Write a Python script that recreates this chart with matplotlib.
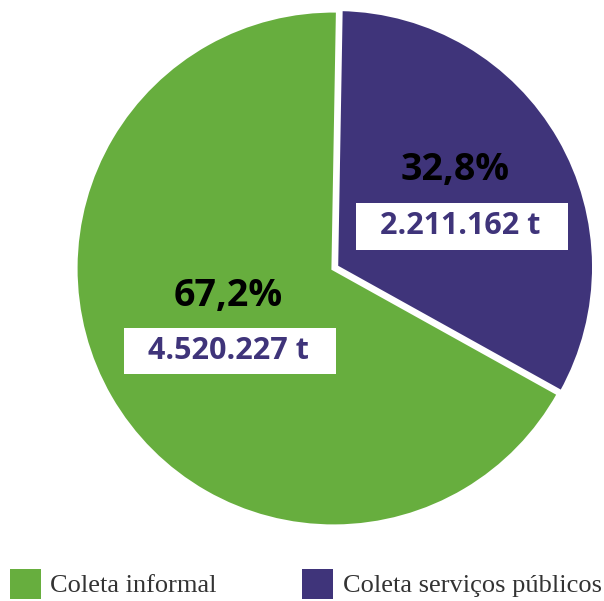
import matplotlib.pyplot as plt
from matplotlib.patches import Rectangle

# data
labels = ["Coleta serviços públicos", "Coleta informal"]
shares = [32.8, 67.2]
pct_text = ["32,8%", "67,2%"]
tonnes_text = ["2.211.162 t", "4.520.227 t"]
colors = ["#3F347A", "#67AE3E"]

W, H = 604, 601
fig = plt.figure(figsize=(W / 100, H / 100), dpi=100)
ax = fig.add_axes([0, 0, 1, 1])

# pie in pixel-like data coordinates (y up)
wedges, _ = ax.pie(shares, colors=colors, startangle=89, counterclock=False,
                   center=(333.5, H - 268.5), radius=258, explode=[3, 0],
                   wedgeprops=dict(edgecolor="white", linewidth=3))
ax.set_xlim(0, W)
ax.set_ylim(0, H)
ax.set_aspect("equal")
ax.axis("off")

# percentage labels and white boxes with tonnage
pct_pos = [(455, 170), (228, 296)]
box_pos = [(356, 203, 212, 47), (124, 328, 212, 46)]
for i in range(2):
    px, py = pct_pos[i]
    ax.text(px, H - py, pct_text[i], ha="center", va="center",
            fontsize=27, fontweight="bold", family="Open Sans", color="black")
    bx, by, bw, bh = box_pos[i]
    ax.add_patch(Rectangle((bx, H - by - bh), bw, bh, facecolor="white",
                           edgecolor="none", zorder=3))
    ax.text(bx + bw / 2 - 2, H - by - bh / 2, tonnes_text[i], ha="center",
            va="center", fontsize=22, fontweight="bold", family="Open Sans",
            color="#3F347A", zorder=4)

# legend
leg_items = [(1, 10, 50), (0, 302, 343)]
for idx, sx, tx in leg_items:
    ax.add_patch(Rectangle((sx, H - 599), 31, 30, facecolor=colors[idx],
                           edgecolor="none", clip_on=False))
    ax.text(tx, H - 586, labels[idx], ha="left", va="center",
            fontsize=19, family="Liberation Serif", color="#333333")

fig.savefig("out.png", dpi=100)
